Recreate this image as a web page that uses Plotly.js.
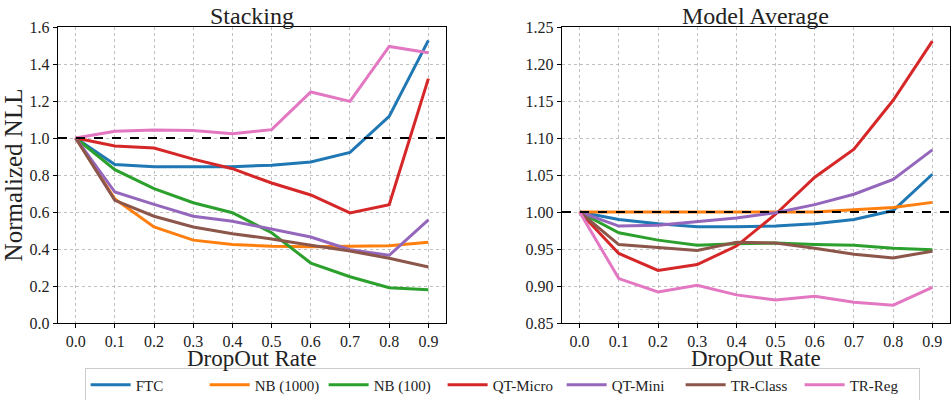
<!DOCTYPE html>
<html>
<head>
<meta charset="utf-8">
<script src="https://cdn.plot.ly/plotly-3.0.1.min.js"></script>
<style>html,body{margin:0;padding:0;background:#fff;}#chart{width:951px;height:400px;}</style>
</head>
<body>
<div id="chart"></div>
<script>
const dropout = [0.0, 0.1, 0.2, 0.3, 0.4, 0.5, 0.6, 0.7, 0.8, 0.9];
const tickLabels = ["0.0","0.1","0.2","0.3","0.4","0.5","0.6","0.7","0.8","0.9"];
const seriesNames = ["FTC", "NB (1000)", "NB (100)", "QT-Micro", "QT-Mini", "TR-Class", "TR-Reg"];
const colors = ["#1f77b4", "#ff7f0e", "#2ca02c", "#d62728", "#9467bd", "#8c564b", "#e377c2"];
const xTitle = "DropOut Rate";

// Stacking panel
const stackFTC      = [1.0, 0.857, 0.845, 0.843, 0.845, 0.853, 0.870, 0.922, 1.117, 1.528];
const stackNB1000   = [1.0, 0.670, 0.519, 0.448, 0.424, 0.415, 0.412, 0.413, 0.418, 0.436];
const stackNB100    = [1.0, 0.829, 0.726, 0.650, 0.596, 0.488, 0.324, 0.250, 0.191, 0.180];
const stackQTMicro  = [1.0, 0.957, 0.946, 0.886, 0.834, 0.757, 0.692, 0.595, 0.640, 1.321];
const stackQTMini   = [1.0, 0.708, 0.641, 0.577, 0.550, 0.508, 0.465, 0.396, 0.366, 0.557];
const stackTRClass  = [1.0, 0.663, 0.577, 0.519, 0.483, 0.454, 0.420, 0.389, 0.350, 0.303];
const stackTRReg    = [1.0, 1.036, 1.043, 1.040, 1.023, 1.045, 1.249, 1.198, 1.495, 1.461];

// Model Average panel
const avgFTC      = [1.0, 0.990, 0.984, 0.980, 0.980, 0.981, 0.984, 0.990, 1.002, 1.051];
const avgNB1000   = [1.0, 1.000, 0.999, 0.999, 0.999, 1.000, 1.000, 1.003, 1.006, 1.013];
const avgNB100    = [1.0, 0.972, 0.962, 0.955, 0.957, 0.958, 0.956, 0.955, 0.951, 0.949];
const avgQTMicro  = [1.0, 0.944, 0.921, 0.929, 0.954, 0.997, 1.047, 1.085, 1.151, 1.231];
const avgQTMini   = [1.0, 0.981, 0.982, 0.987, 0.992, 0.999, 1.010, 1.024, 1.044, 1.084];
const avgTRClass  = [1.0, 0.956, 0.952, 0.948, 0.959, 0.958, 0.951, 0.943, 0.938, 0.947];
const avgTRReg    = [1.0, 0.910, 0.892, 0.901, 0.888, 0.881, 0.886, 0.878, 0.874, 0.898];

const stackSeries = [stackFTC, stackNB1000, stackNB100, stackQTMicro, stackQTMini, stackTRClass, stackTRReg];
const avgSeries = [avgFTC, avgNB1000, avgNB100, avgQTMicro, avgQTMini, avgTRClass, avgTRReg];

const FONT = "Liberation Serif";
const traces = [];
stackSeries.forEach((ys, i) => {
  traces.push({x: dropout, y: ys, type: "scatter", mode: "lines", name: seriesNames[i],
    line: {color: colors[i], width: 3}, xaxis: "x", yaxis: "y", legendgroup: seriesNames[i], showlegend: true});
});
avgSeries.forEach((ys, i) => {
  traces.push({x: dropout, y: ys, type: "scatter", mode: "lines", name: seriesNames[i],
    line: {color: colors[i], width: 3}, xaxis: "x2", yaxis: "y2", legendgroup: seriesNames[i], showlegend: false});
});

const xCommon = {
  range: [-0.045, 0.945], tickmode: "array", tickvals: dropout, ticktext: tickLabels,
  showline: true, mirror: true, linecolor: "#000", linewidth: 1.2,
  ticks: "outside", ticklen: 4, tickcolor: "#000", tickfont: {family: FONT, size: 16, color: "#222"},
  showgrid: true, gridcolor: "#b0b0b0", griddash: "dot", gridwidth: 0.8, zeroline: false,
  automargin: false
};
const yCommon = {
  showline: true, mirror: true, linecolor: "#000", linewidth: 1.2,
  ticks: "outside", ticklen: 4, tickcolor: "#000", tickfont: {family: FONT, size: 16, color: "#222"},
  showgrid: true, gridcolor: "#b0b0b0", griddash: "dot", gridwidth: 0.8, zeroline: false,
  automargin: false
};

const layout = {
  width: 951, height: 400,
  margin: {l: 58, r: 1, t: 27, b: 77},
  paper_bgcolor: "#fff", plot_bgcolor: "#fff",
  font: {family: FONT, color: "#222"},
  xaxis: Object.assign({}, xCommon, {domain: [0, 0.435], anchor: "y"}),
  yaxis: Object.assign({}, yCommon, {domain: [0, 1], anchor: "x", range: [0, 1.6], dtick: 0.2, tickformat: ".1f",
    title: {text: "Normalized NLL", font: {family: FONT, size: 25, color: "#222"}, standoff: 6}}),
  xaxis2: Object.assign({}, xCommon, {domain: [0.565, 1.0], anchor: "y2"}),
  yaxis2: Object.assign({}, yCommon, {domain: [0, 1], anchor: "x2", range: [0.85, 1.25], dtick: 0.05, tickformat: ".2f"}),
  shapes: [
    {type: "line", xref: "x domain", yref: "y", x0: 0, x1: 1, y0: 1, y1: 1, line: {color: "#000", width: 1.8, dash: "dash"}},
    {type: "line", xref: "x2 domain", yref: "y2", x0: 0, x1: 1, y0: 1, y1: 1, line: {color: "#000", width: 1.8, dash: "dash"}}
  ],
  annotations: [
    {text: "Stacking", xref: "x domain", yref: "paper", x: 0.5, y: 1, yanchor: "bottom", showarrow: false, yshift: -4,
      font: {family: FONT, size: 24, color: "#222"}},
    {text: "Model Average", xref: "x2 domain", yref: "paper", x: 0.5, y: 1, yanchor: "bottom", showarrow: false, yshift: -4,
      font: {family: FONT, size: 24, color: "#222"}},
    {text: xTitle, xref: "x domain", yref: "paper", x: 0.5, y: 0, yanchor: "top", showarrow: false, yshift: -21,
      font: {family: FONT, size: 23, color: "#222"}},
    {text: xTitle, xref: "x2 domain", yref: "paper", x: 0.5, y: 0, yanchor: "top", showarrow: false, yshift: -21,
      font: {family: FONT, size: 23, color: "#222"}}
  ],
  legend: {orientation: "h", xref: "container", yref: "container", x: 0.528, xanchor: "center", y: 0.0375, yanchor: "middle",
    bordercolor: "#cccccc", borderwidth: 1, bgcolor: "#fff",
    font: {family: FONT, size: 15, color: "#222"}, itemwidth: 40, traceorder: "normal",
    entrywidth: 64, entrywidthmode: "pixels"},
  showlegend: true
};

Plotly.newPlot("chart", traces, layout, {displayModeBar: false, staticPlot: true});
</script>
</body>
</html>
